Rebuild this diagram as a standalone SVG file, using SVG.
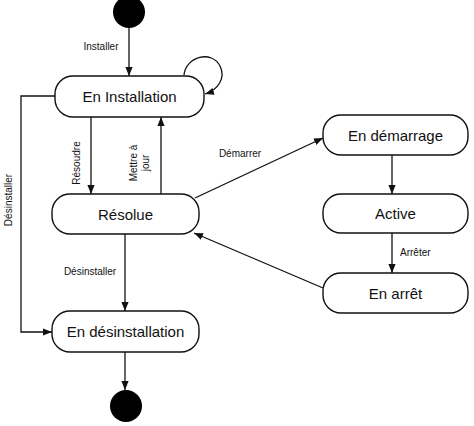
<svg xmlns="http://www.w3.org/2000/svg" width="474" height="426" viewBox="0 0 474 426">
<style>
.st{fill:#fff;stroke:#111;stroke-width:1.4}
.nt{font-family:"Liberation Sans",Arial,sans-serif;font-size:15px;fill:#111;text-anchor:middle;dominant-baseline:central}
.lb{font-family:"Liberation Sans",Arial,sans-serif;font-size:10px;fill:#111}
.ed{fill:none;stroke:#111;stroke-width:1.3;marker-end:url(#ah)}
.dot{fill:#000}
</style>
<defs>
<marker id="ah" viewBox="0 0 10 10" refX="10" refY="5" markerWidth="9" markerHeight="9" markerUnits="userSpaceOnUse" orient="auto">
<path d="M0,1 L10,5 L0,9 Z" fill="#111"/>
</marker>
</defs>
<g id="edges">
<path class="ed" d="M129,28 L129,76"/>
<path class="ed" d="M184,75 C186,56 212,50 220,66 C226,78 218,90 205,94"/>
<path class="ed" d="M55,96 L21,96 L21,332 L52,332"/>
<path class="ed" d="M91,117 L91,194"/>
<path class="ed" d="M161,194 L161,117"/>
<path class="ed" d="M125,234 L125,311"/>
<path class="ed" d="M125,352 L125,390"/>
<path class="ed" d="M195,198 L323,138"/>
<path class="ed" d="M392,155 L392,194"/>
<path class="ed" d="M392,233 L392,273"/>
<path class="ed" d="M323,288 L194,233"/>
<text class="lb" x="101" y="50" text-anchor="middle">Installer</text>
<text class="lb" transform="translate(12,200) rotate(-90)" text-anchor="middle">Désinstaller</text>
<text class="lb" transform="translate(80,163) rotate(-90)" text-anchor="middle">Résoudre</text>
<text class="lb" transform="translate(137,163) rotate(-90)" text-anchor="middle">Mettre à</text>
<text class="lb" transform="translate(149,163) rotate(-90)" text-anchor="middle">jour</text>
<text class="lb" x="240" y="157" text-anchor="middle">Démarrer</text>
<text class="lb" x="400" y="256">Arrêter</text>
<text class="lb" x="90" y="275" text-anchor="middle">Désinstaller</text>
</g>
<g id="start"><circle class="dot" cx="129" cy="12" r="16"/></g>
<g id="en-installation"><rect class="st" x="55" y="76" width="149" height="41" rx="18"/><text class="nt" x="129.5" y="96.5">En Installation</text></g>
<g id="resolue"><rect class="st" x="52" y="194" width="147" height="40" rx="18"/><text class="nt" x="125.5" y="214">Résolue</text></g>
<g id="en-desinstallation"><rect class="st" x="52" y="311" width="147" height="41" rx="18"/><text class="nt" x="125.5" y="331.5">En désinstallation</text></g>
<g id="end"><circle class="dot" cx="126" cy="406" r="16"/></g>
<g id="en-demarrage"><rect class="st" x="323" y="115" width="145" height="40" rx="18"/><text class="nt" x="395.5" y="135">En démarrage</text></g>
<g id="active"><rect class="st" x="323" y="194" width="145" height="39" rx="18"/><text class="nt" x="395.5" y="213.5">Active</text></g>
<g id="en-arret"><rect class="st" x="323" y="273" width="145" height="40" rx="18"/><text class="nt" x="395.5" y="293">En arrêt</text></g>
</svg>
